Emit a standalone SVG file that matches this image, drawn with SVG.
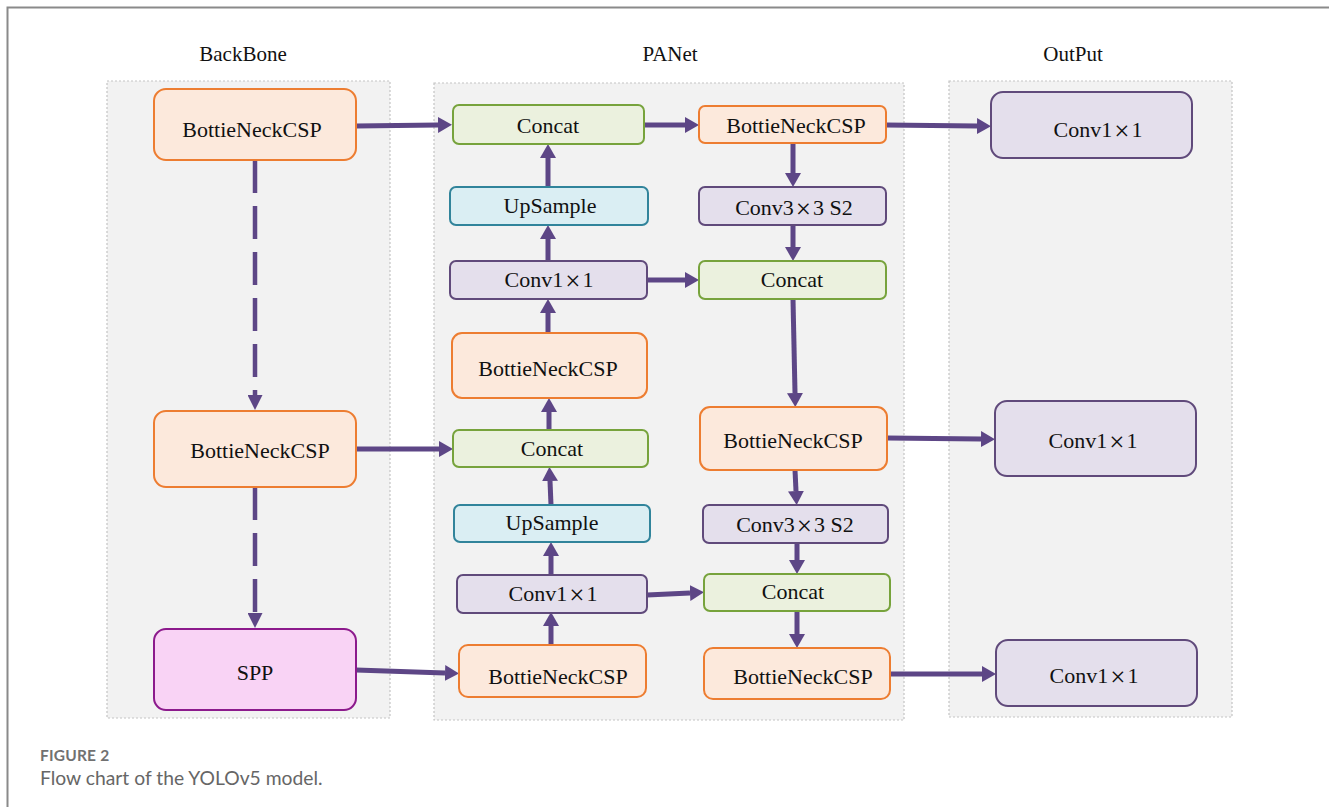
<svg xmlns="http://www.w3.org/2000/svg" width="1329" height="807" viewBox="0 0 1329 807">
<style>
.panel{fill:#f2f2f2;stroke:#c4c4c4;stroke-width:1.2;stroke-dasharray:2 2}
.title{font-family:"Liberation Serif",serif;font-size:21px;fill:#111;text-anchor:middle}
.t{font-family:"Liberation Serif",serif;font-size:22px;fill:#111;text-anchor:middle}
.x{font-size:27px}
.orange{fill:#fce9dc;stroke:#ed7d31;stroke-width:2}
.green{fill:#ebf1de;stroke:#77a33c;stroke-width:2}
.blue{fill:#daeef3;stroke:#31849b;stroke-width:2}
.purple{fill:#e4dfec;stroke:#604a7b;stroke-width:2}
.pink{fill:#f9d3f5;stroke:#8c1a8c;stroke-width:2}
.arr{stroke:#5d4686;stroke-width:5;fill:none;marker-end:url(#ah)}
.dash{stroke:#5d4686;stroke-width:4.5;fill:none;stroke-dasharray:33 13;marker-end:url(#ah2)}
.cap1{font-family:Lato,"Open Sans",sans-serif;font-size:15.5px;font-weight:bold;fill:#717171;letter-spacing:0.2px}
.cap2{font-family:Lato,"Open Sans",sans-serif;font-size:19.3px;fill:#666}
</style>
<defs>
<marker id="ah" viewBox="0 0 14 16" refX="0" refY="8" markerWidth="14" markerHeight="16" markerUnits="userSpaceOnUse" orient="auto">
<path d="M0,0 L14,8 L0,16 Z" fill="#5d4686"/>
</marker>
<marker id="ah2" viewBox="0 0 15 15" refX="0" refY="7.5" markerWidth="15" markerHeight="15" markerUnits="userSpaceOnUse" orient="auto">
<path d="M0,0 L15,7.5 L0,15 Z" fill="#5d4686"/>
</marker>
</defs>
<rect width="1329" height="807" fill="#fff"/>
<path d="M7.5,807 V7.5 H1329" fill="none" stroke="#8a8a8a" stroke-width="2"/>

<g id="panels">
<rect class="panel" x="107" y="81" width="283" height="637"/>
<rect class="panel" x="434" y="83" width="470" height="637"/>
<rect class="panel" x="949" y="81" width="283" height="636"/>
<text class="title" x="243" y="61">BackBone</text>
<text class="title" x="670" y="61">PANet</text>
<text class="title" x="1073" y="61">OutPut</text>
</g>

<g id="connectors">
<line class="dash" x1="255" y1="160" x2="255" y2="395"/>
<line class="dash" x1="255" y1="487" x2="255" y2="613"/>
<line class="arr" x1="356" y1="126" x2="438" y2="125"/>
<line class="arr" x1="644" y1="125" x2="685" y2="125"/>
<line class="arr" x1="886" y1="125" x2="977" y2="126"/>
<line class="arr" x1="793" y1="143" x2="793" y2="173"/>
<line class="arr" x1="793" y1="225" x2="793" y2="247"/>
<line class="arr" x1="548" y1="187" x2="548" y2="158"/>
<line class="arr" x1="548" y1="261" x2="548" y2="239"/>
<line class="arr" x1="647" y1="280" x2="685" y2="280"/>
<line class="arr" x1="548" y1="333" x2="548" y2="313"/>
<line class="arr" x1="549" y1="430" x2="549" y2="412"/>
<line class="arr" x1="793" y1="299" x2="795" y2="393"/>
<line class="arr" x1="356" y1="449" x2="439" y2="449"/>
<line class="arr" x1="887" y1="438" x2="981" y2="439"/>
<line class="arr" x1="795" y1="470" x2="796" y2="491"/>
<line class="arr" x1="797" y1="543" x2="797" y2="560"/>
<line class="arr" x1="551" y1="505" x2="550" y2="481"/>
<line class="arr" x1="551" y1="575" x2="551" y2="556"/>
<line class="arr" x1="647" y1="595" x2="690" y2="593"/>
<line class="arr" x1="551" y1="645" x2="551" y2="626"/>
<line class="arr" x1="797" y1="611" x2="797" y2="634"/>
<line class="arr" x1="356" y1="670" x2="445" y2="673"/>
<line class="arr" x1="890" y1="674" x2="982" y2="674"/>
</g>

<g id="B1"><rect class="orange" x="154" y="89" width="202" height="71" rx="12"/><text class="t" x="252" y="137">BottieNeckCSP</text></g>
<g id="B2"><rect class="orange" x="154" y="411" width="202" height="76" rx="12"/><text class="t" x="260" y="458">BottieNeckCSP</text></g>
<g id="SPP"><rect class="pink" x="154" y="629" width="202" height="81" rx="12"/><text class="t" x="255" y="680">SPP</text></g>

<g id="Concat1"><rect class="green" x="453" y="105" width="191" height="39" rx="6"/><text class="t" x="548" y="133">Concat</text></g>
<g id="UpSample1"><rect class="blue" x="450" y="187" width="198" height="38" rx="6"/><text class="t" x="550" y="213">UpSample</text></g>
<g id="Conv1x1_L1"><rect class="purple" x="450" y="261" width="197" height="38" rx="6"/><text class="t" x="549" y="287">Conv1<tspan class="x" dx="2" dy="3">×</tspan><tspan dx="2" dy="-3">1</tspan></text></g>
<g id="BNCSP_L1"><rect class="orange" x="452" y="333" width="195" height="65" rx="10"/><text class="t" x="548" y="376">BottieNeckCSP</text></g>
<g id="Concat2"><rect class="green" x="453" y="430" width="195" height="37" rx="6"/><text class="t" x="552" y="456">Concat</text></g>
<g id="UpSample2"><rect class="blue" x="454" y="505" width="196" height="37" rx="6"/><text class="t" x="552" y="530">UpSample</text></g>
<g id="Conv1x1_L2"><rect class="purple" x="457" y="575" width="190" height="38" rx="6"/><text class="t" x="553" y="601">Conv1<tspan class="x" dx="2" dy="3">×</tspan><tspan dx="2" dy="-3">1</tspan></text></g>
<g id="BNCSP_L2"><rect class="orange" x="459" y="645" width="187" height="52" rx="9"/><text class="t" x="558" y="684">BottieNeckCSP</text></g>

<g id="BNCSP_R1"><rect class="orange" x="699" y="106" width="187" height="37" rx="6"/><text class="t" x="796" y="133">BottieNeckCSP</text></g>
<g id="Conv3x3_R1"><rect class="purple" x="699" y="187" width="187" height="38" rx="6"/><text class="t" x="794" y="215">Conv3<tspan class="x" dx="2" dy="3">×</tspan><tspan dx="2" dy="-3">3 S2</tspan></text></g>
<g id="Concat3"><rect class="green" x="699" y="261" width="187" height="38" rx="6"/><text class="t" x="792" y="287">Concat</text></g>
<g id="BNCSP_R2"><rect class="orange" x="700" y="407" width="187" height="63" rx="10"/><text class="t" x="793" y="448">BottieNeckCSP</text></g>
<g id="Conv3x3_R2"><rect class="purple" x="703" y="505" width="185" height="38" rx="6"/><text class="t" x="795" y="532">Conv3<tspan class="x" dx="2" dy="3">×</tspan><tspan dx="2" dy="-3">3 S2</tspan></text></g>
<g id="Concat4"><rect class="green" x="704" y="574" width="186" height="37" rx="6"/><text class="t" x="793" y="599">Concat</text></g>
<g id="BNCSP_R3"><rect class="orange" x="704" y="648" width="186" height="51" rx="9"/><text class="t" x="803" y="684">BottieNeckCSP</text></g>

<g id="Out1"><rect class="purple" x="991" y="92" width="201" height="66" rx="12"/><text class="t" x="1098" y="137">Conv1<tspan class="x" dx="2" dy="3">×</tspan><tspan dx="2" dy="-3">1</tspan></text></g>
<g id="Out2"><rect class="purple" x="995" y="401" width="201" height="75" rx="12"/><text class="t" x="1093" y="448">Conv1<tspan class="x" dx="2" dy="3">×</tspan><tspan dx="2" dy="-3">1</tspan></text></g>
<g id="Out3"><rect class="purple" x="996" y="640" width="201" height="66" rx="12"/><text class="t" x="1094" y="683">Conv1<tspan class="x" dx="2" dy="3">×</tspan><tspan dx="2" dy="-3">1</tspan></text></g>

<g id="caption">
<text class="cap1" x="40" y="761">FIGURE 2</text>
<text class="cap2" x="40" y="785">Flow chart of the YOLOv5 model.</text>
</g>
</svg>
